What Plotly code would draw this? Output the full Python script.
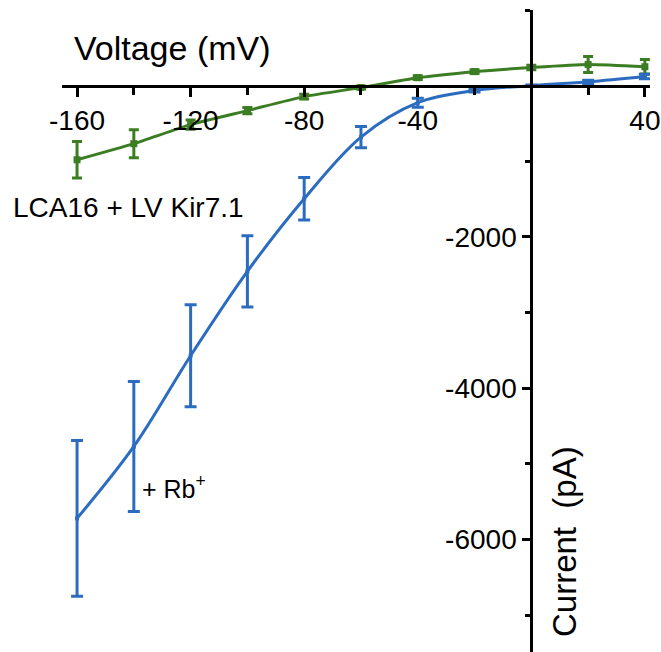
import plotly.graph_objects as go

# ---- data ----
voltage = [-160, -140, -120, -100, -80, -60, -40, -20, 0, 20, 40]
rb_mean = [-5720, -4770, -3570, -2455, -1495, -680, -225, -65, 0, 50, 120]
rb_err = [1030, 860, 675, 470, 280, 140, 60, 20, 10, 20, 30]
kir_mean = [-980, -767, -515, -330, -145, -25, 105, 185, 240, 280, 250]
kir_err = [240, 185, 60, 40, 30, 20, 25, 25, 30, 105, 95]

x_major = [-160, -120, -80, -40, 40]
x_major_text = ["-160", "-120", "-80", "-40", "40"]
x_minor = [-140, -100, -60, -20, 20]
y_major = [-6000, -4000, -2000]
y_major_text = ["-6000", "-4000", "-2000"]
y_minor = [-7000, -5000, -3000, -1000, 1000]

W, H = 661, 652
xr = [-165.3, 41.8]
yr = [-7487, 1000]
xdom = [62 / W, 650 / W]
ydom = [0, (H - 10) / H]

# paper positions of the zero crossings
x0_paper = xdom[0] + (0 - xr[0]) / (xr[1] - xr[0]) * (xdom[1] - xdom[0])
y0_paper = ydom[0] + (0 - yr[0]) / (yr[1] - yr[0]) * (ydom[1] - ydom[0])

BLUE = "#2c6cc0"
GREEN = "#3b7d23"
FONT = "Arial, Liberation Sans, sans-serif"

fig = go.Figure()
fig.add_trace(go.Scatter(
    x=voltage, y=kir_mean, mode="lines+markers",
    line=dict(color=GREEN, width=3, shape="spline", smoothing=0.6),
    marker=dict(symbol="square", size=7, color=GREEN),
    error_y=dict(type="data", array=kir_err, color=GREEN, thickness=3, width=5),
    showlegend=False,
))
fig.add_trace(go.Scatter(
    x=voltage, y=rb_mean, mode="lines+markers",
    line=dict(color=BLUE, width=3, shape="spline", smoothing=1.0),
    marker=dict(symbol="square", size=4, color=BLUE),
    error_y=dict(type="data", array=rb_err, color=BLUE, thickness=3, width=6),
    showlegend=False,
))

fig.update_xaxes(
    range=xr, domain=xdom, anchor="free", position=y0_paper, side="bottom",
    automargin=False,
    showgrid=False, zeroline=False, showline=True, linecolor="black", linewidth=3,
    ticks="outside", ticklen=9, tickwidth=3, tickcolor="black",
    tickmode="array", tickvals=x_major, ticktext=x_major_text,
    minor=dict(tickmode="array", tickvals=x_minor, ticks="outside", ticklen=7,
               tickwidth=3, tickcolor="black"),
    tickfont=dict(family=FONT, size=28, color="black"),
)
fig.update_yaxes(
    range=yr, domain=ydom, anchor="free", position=x0_paper, side="left",
    automargin=False,
    showgrid=False, zeroline=False, showline=True, linecolor="black", linewidth=3,
    ticks="outside", ticklen=8, tickwidth=3, tickcolor="black",
    tickmode="array", tickvals=y_major, ticktext=y_major_text,
    minor=dict(tickmode="array", tickvals=y_minor, ticks="outside", ticklen=5,
               tickwidth=3, tickcolor="black"),
    tickfont=dict(family=FONT, size=28, color="black"),
)

ann = dict(xref="paper", yref="paper", showarrow=False,
           xanchor="center", yanchor="middle")
fig.add_annotation(text="Voltage (mV)", x=172 / W, y=1 - 48 / H,
                   font=dict(family=FONT, size=34, color="black"), **ann)
fig.add_annotation(text="LCA16 + LV Kir7.1", x=128 / W, y=1 - 208 / H,
                   font=dict(family=FONT, size=28, color="black"), **ann)
fig.add_annotation(text="+ Rb<sup>+</sup>", x=174 / W, y=1 - 487 / H,
                   font=dict(family=FONT, size=25, color="black"), **ann)
fig.add_annotation(text="Current  (pA)", x=564 / W, y=1 - 542 / H, textangle=-90,
                   font=dict(family=FONT, size=33, color="black"), **ann)

fig.update_layout(
    width=W, height=H, margin=dict(l=0, r=0, t=0, b=0, autoexpand=False),
    paper_bgcolor="white", plot_bgcolor="white",
)
fig.write_html("out.html")
